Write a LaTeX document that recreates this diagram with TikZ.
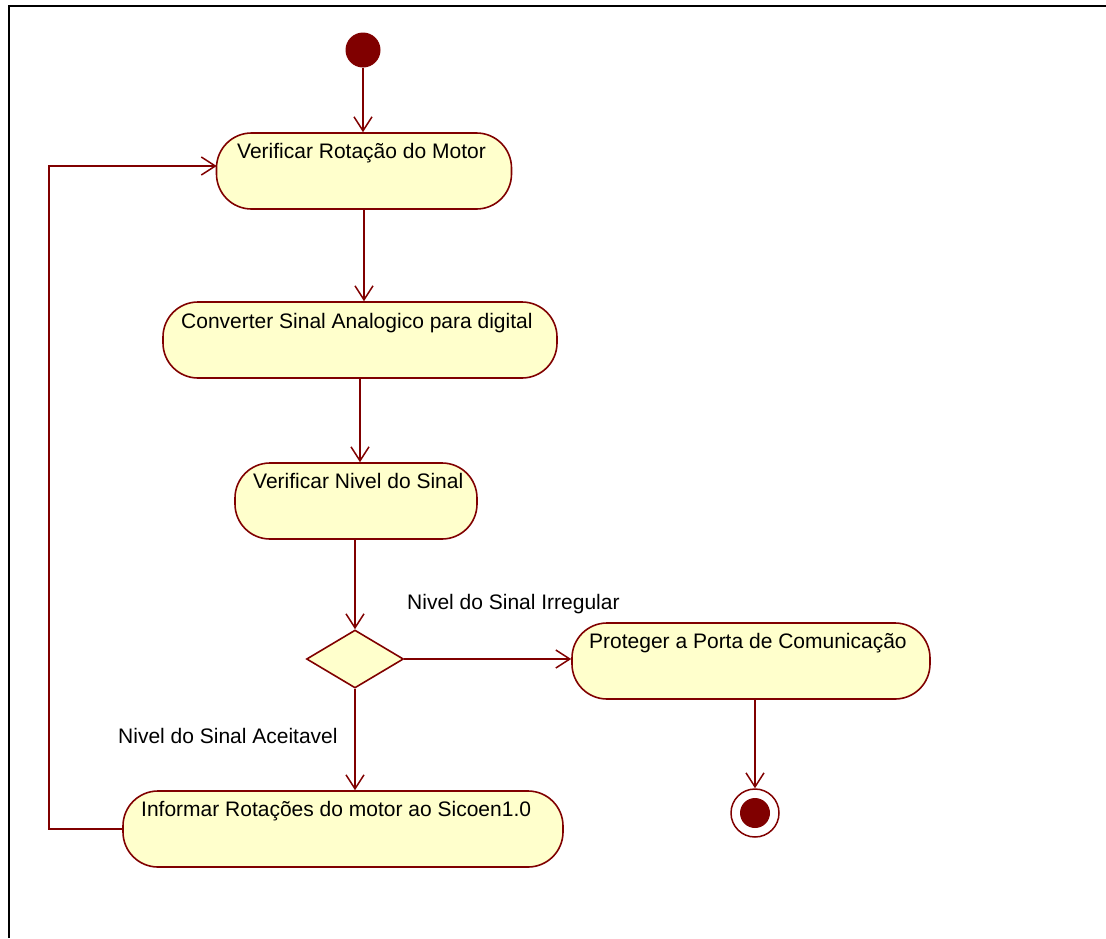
\documentclass[tikz,border=0pt]{standalone}
\usepackage{fontspec}
\setmainfont{Liberation Sans}
\usetikzlibrary{arrows.meta,shapes.geometric}
\definecolor{umlline}{RGB}{128,0,0}
\definecolor{umlfill}{RGB}{255,255,204}
\begin{document}
\begin{tikzpicture}[x=1pt,y=-1pt,
  act/.style={draw=umlline, fill=umlfill, line width=1.6pt, rounded corners=35pt, inner sep=0},
  acttext/.style={anchor=mid west, inner sep=0, font=\fontsize{21}{24}\selectfont},
  guard/.style={anchor=mid west, inner sep=0, font=\fontsize{21}{24}\selectfont},
  flow/.style={draw=umlline, line width=1.5pt,
    -{Straight Barb[length=14pt,width=18pt,line width=1.5pt]}},
  decision/.style={diamond, draw=umlline, fill=umlfill, line width=1.6pt, inner sep=0,
    minimum width=97pt, minimum height=58pt}]
\useasboundingbox (0,0) rectangle (1106,938);
\draw[black, line width=2pt] (9,938) -- (9,6) -- (1106,6);

% initial and final states
\node[circle, fill=umlline, minimum size=35pt, inner sep=0] (ini) at (363,50) {};
\node[circle, draw=umlline, line width=1.5pt, minimum size=48pt, inner sep=0] (fin) at (755,813) {};
\node[circle, fill=umlline, minimum size=30pt, inner sep=0] (finc) at (fin) {};

% activities
\node[act, minimum width=295pt, minimum height=76pt] (a1) at (364,171) {};
\node[acttext] (t1) at (237,156) {Verificar Rotação do Motor};
\node[act, minimum width=394pt, minimum height=76pt] (a2) at (360,340) {};
\node[acttext] (t2) at (181,326) {Converter Sinal Analogico para digital};
\node[act, minimum width=242pt, minimum height=76pt] (a3) at (356,501) {};
\node[acttext] (t3) at (253,486) {Verificar Nivel do Sinal};
\node[decision] (d) at (355,659) {};
\node[act, minimum width=358pt, minimum height=76pt] (a4) at (751,661) {};
\node[acttext] (t4) at (589,646) {Proteger a Porta de Comunicação};
\node[act, minimum width=440pt, minimum height=76pt] (a5) at (343,829) {};
\node[acttext] (t5) at (141,814) {Informar Rotações do motor ao Sicoen1.0};

% guards
\node[guard] (g1) at (407,607) {Nivel do Sinal Irregular};
\node[guard] (g2) at (118,741) {Nivel do Sinal Aceitavel};

% flows
\coordinate (lp) at (49,0);
\draw[flow] (ini) -- (ini |- a1.north);
\draw[flow] (a1.south) -- (a1.south |- a2.north);
\draw[flow] (a2.south) -- (a2.south |- a3.north);
\draw[flow] (d.north |- a3.south) -- (d.north);
\draw[flow] (d.east) -- (d.east -| a4.west);
\draw[flow] (d.south) -- (d.south |- a5.north);
\draw[flow] (fin.north |- a4.south) -- (fin.north);
\draw[flow] (a5.west) -- (a5.west -| lp) -- ([yshift=5pt]lp |- a1.west) -- ([yshift=5pt,xshift=1pt]a1.west);
\end{tikzpicture}
\end{document}
